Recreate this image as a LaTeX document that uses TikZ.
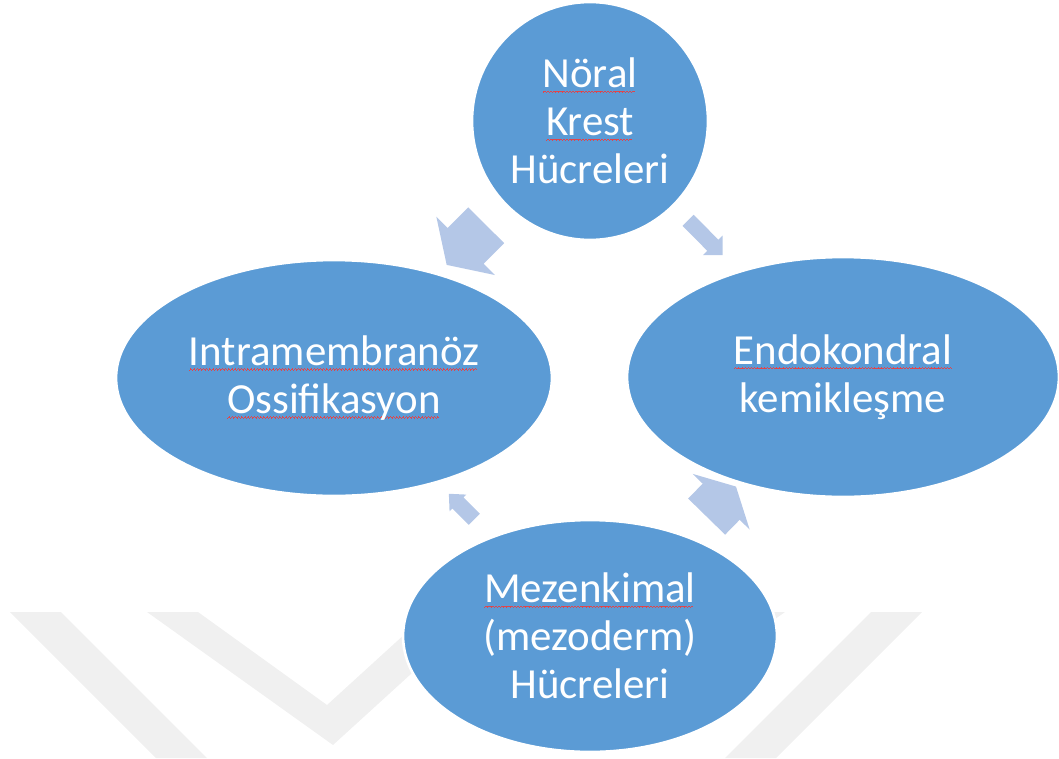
\documentclass[tikz,border=0pt]{standalone}
\usepackage{fontspec}
\setmainfont{Carlito}
\usetikzlibrary{shapes.geometric,shapes.arrows}

\definecolor{elblue}{HTML}{5B9BD5}
\definecolor{arblue}{HTML}{B4C7E7}
\definecolor{wmgray}{HTML}{F0F0F0}
\definecolor{spred}{HTML}{E0454B}

% red spelling wave under a word
\newcommand{\spl}[1]{\setbox0=\hbox{#1}\rlap{\color{spred}\leaders\hbox{\rule[-2.8pt]{.45pt}{.45pt}\rule[-2.45pt]{.45pt}{.45pt}\rule[-2.1pt]{.45pt}{.45pt}\rule[-2.45pt]{.45pt}{.45pt}}\hskip\wd0}#1}

\begin{document}
\begin{tikzpicture}[x=0.02cm, y=-0.02cm,
    cell/.style={ellipse, fill=elblue, draw=white, line width=1.5pt, inner sep=0pt,
        text=white, align=center, font=\fontsize{24.4}{27.3}\selectfont},
    blk/.style={single arrow, fill=arblue, inner xsep=0pt, sloped, allow upside down}]

    \useasboundingbox (0,0) rectangle (1059,758);

    % watermark
    \fill[wmgray] (10,612) -- (61,612) -- (207,758) -- (156,758) -- cycle;
    \fill[wmgray] (147,612) -- (198,612) -- (327,705) -- (429,612) -- (479,612) -- (333,745) -- cycle;
    \fill[wmgray] (785,612) -- (734,612) -- (605,705) -- (503,612) -- (453,612) -- (599,745) -- cycle;
    \fill[wmgray] (922,612) -- (871,612) -- (725,758) -- (776,758) -- cycle;

%%   kw   (name)   (x, y)   {text}
    \node[cell, minimum width=4.72cm, minimum height=4.76cm] (tp1) at (590,121) {\spl{Nöral}\\ \spl{Krest}\\ Hücreleri};
    \node[cell, minimum width=8.72cm, minimum height=4.72cm] (lt1) at (334,378) {\spl{Intramembranöz}\\ \spl{Ossifikasyon}};
    \node[cell, minimum width=8.64cm, minimum height=4.80cm] (rt1) at (843,377) {\spl{Endokondral}\\ kemikleşme};
    \node[cell, minimum width=7.48cm, minimum height=4.64cm] (bt1) at (590,636) {\spl{Mezenkimal}\\ (mezoderm)\\ Hücreleri};

    \path (tp1.center) -- (lt1.center) node[blk, pos=.46, minimum height=1.12cm, inner ysep=.5cm,
        single arrow head extend=.32cm, single arrow tip angle=114] {};
    \path (tp1.center) -- (rt1.center) node[blk, pos=.445, minimum height=.98cm, inner ysep=.15cm,
        single arrow head extend=.12cm, single arrow tip angle=90] {};
    \path (bt1.center) -- (lt1.center) node[blk, pos=.49, minimum height=.72cm, inner ysep=.15cm,
        single arrow head extend=.08cm, single arrow tip angle=85] {};
    \path (bt1.center) -- (rt1.center) node[blk, pos=.5, minimum height=.84cm, inner ysep=.51cm,
        single arrow head extend=.28cm, single arrow tip angle=124] {};
\end{tikzpicture}
\end{document}
